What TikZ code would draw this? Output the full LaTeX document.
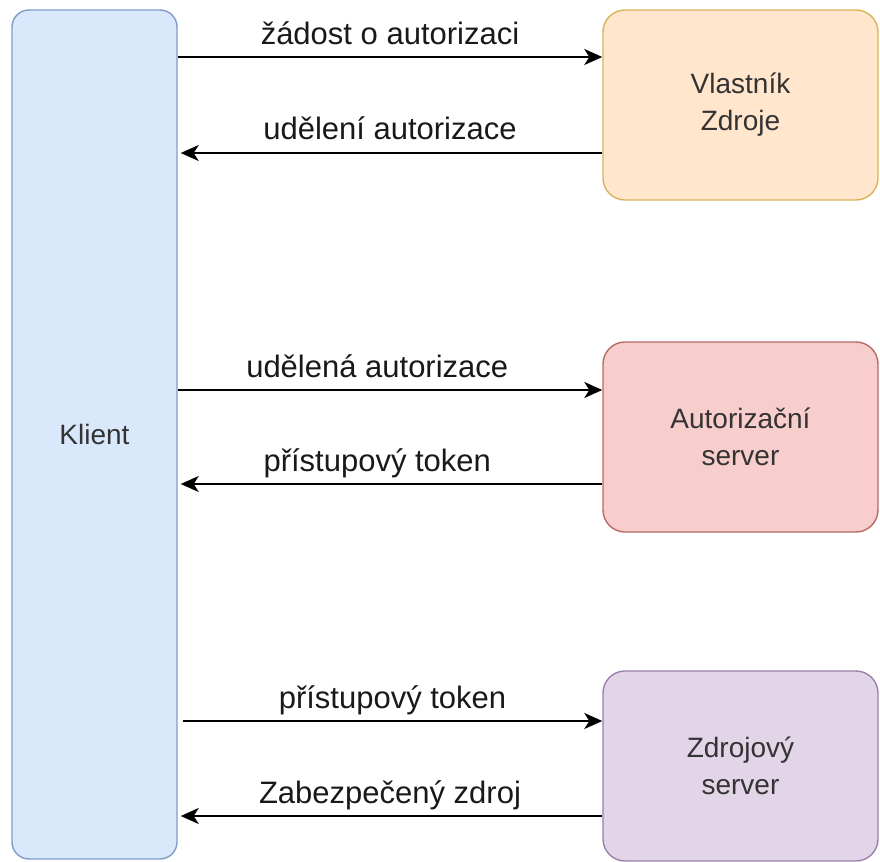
\documentclass[tikz,border=0pt]{standalone}
\usepackage{fontspec}
\setmainfont{Liberation Sans}
\usetikzlibrary{arrows.meta}

\definecolor{klientfill}{HTML}{DAE8FC}
\definecolor{klientline}{HTML}{7F9CC8}
\definecolor{vlastfill}{HTML}{FFE6CC}
\definecolor{vlastline}{HTML}{D9B35A}
\definecolor{autfill}{HTML}{F8CECC}
\definecolor{autline}{HTML}{B86A66}
\definecolor{zdrfill}{HTML}{E1D5E7}
\definecolor{zdrline}{HTML}{9A80AA}

\tikzset{
  box/.style={draw, rounded corners=11pt, line width=0.7pt, align=center,
    text=black!80, font=\fontsize{14}{18.5}\selectfont,
    minimum width=137.5pt, minimum height=95pt, inner sep=0pt},
  flow/.style={-{Stealth[length=9pt,width=8pt,inset=2.5pt]}, line width=1pt},
  back/.style={flow, shorten >=1.5pt},
  lbl/.style={anchor=base, yshift=6.5pt, inner sep=0pt, text=black!90,
    font=\fontsize{15.5}{18.5}\selectfont}
}

\begin{document}
\begin{tikzpicture}[x=0.5pt, y=-0.5pt]
\useasboundingbox (0,0) rectangle (880,862);

\node[box, fill=klientfill, draw=klientline, rounded corners=8.5pt,
  minimum width=82.5pt, minimum height=424.5pt] (klient) at (94.5,434.5) {Klient};

\node[box, fill=vlastfill, draw=vlastline] (vlastnik) at (740.5,105) {Vlastník\\Zdroje};
\node[box, fill=autfill, draw=autline] (autserver) at (740.5,437) {Autorizační\\server};
\node[box, fill=zdrfill, draw=zdrline] (zdrserver) at (740.5,766) {Zdrojový\\server};

% vlastnik zdroje
\draw[flow] (klient.east |- 0,57) -- (vlastnik.west |- 0,57)
  node[lbl, midway] {žádost o autorizaci};
\draw[back] (vlastnik.west |- 0,153) -- (klient.east |- 0,153)
  node[lbl, midway] {udělení autorizace};

% autorizacni server
\draw[flow] (klient.east |- 0,390) -- (autserver.west |- 0,390)
  node[lbl, pos=0.47] {udělená autorizace};
\draw[back] (autserver.west |- 0,484) -- (klient.east |- 0,484)
  node[lbl, pos=0.53] {přístupový token};

% zdrojovy server
\draw[flow] ([xshift=2.5pt]klient.east |- 0,721) -- (zdrserver.west |- 0,721)
  node[lbl, midway] {přístupový token};
\draw[back] (zdrserver.west |- 0,816) -- (klient.east |- 0,816)
  node[lbl, midway] {Zabezpečený zdroj};
\end{tikzpicture}
\end{document}
